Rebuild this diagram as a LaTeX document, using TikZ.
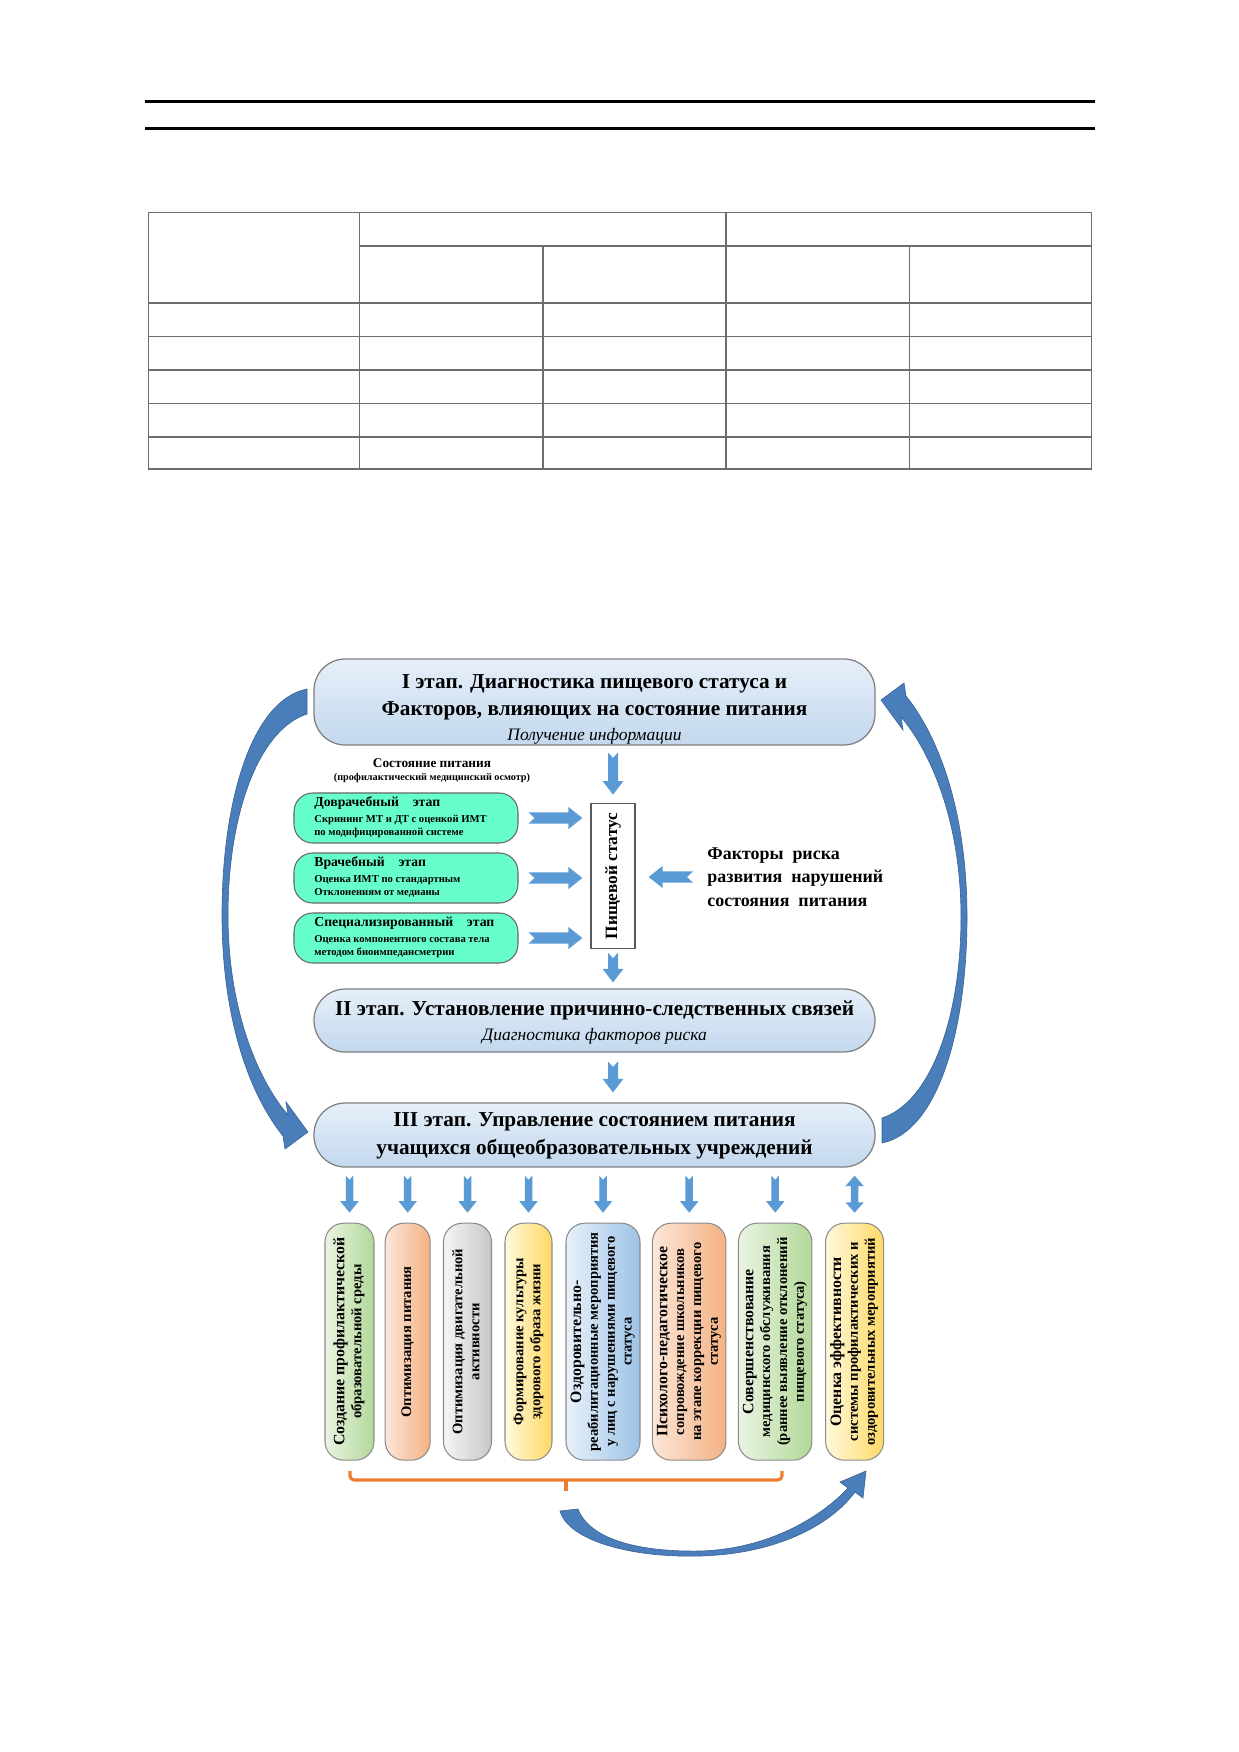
\documentclass[tikz,border=0pt]{standalone}
\usepackage{fontspec}
\setmainfont{Liberation Serif}
\usepackage{graphicx}
\usetikzlibrary{calc}
\definecolor{arrblue}{HTML}{5B9BD5}
\definecolor{carr}{HTML}{4A7EBB}
\definecolor{carrd}{HTML}{3A6496}
\definecolor{stgtop}{HTML}{E6EFF9}
\definecolor{stgbot}{HTML}{C3D8EE}
\definecolor{aqua}{HTML}{66FFCC}
\definecolor{brorange}{HTML}{ED7D31}
\definecolor{tblgray}{HTML}{6E6E6E}
\definecolor{gL}{HTML}{EAF4E2}\definecolor{gR}{HTML}{B2D898}
\definecolor{oL}{HTML}{FCE6D8}\definecolor{oR}{HTML}{F4B183}
\definecolor{yL}{HTML}{FFF9DC}\definecolor{yR}{HTML}{FFD966}
\definecolor{bL}{HTML}{E8F1FA}\definecolor{bR}{HTML}{9DC3E6}
\definecolor{grL}{HTML}{F5F5F5}\definecolor{grR}{HTML}{C8C8C8}
\def\pxu{0.48pt}
% block arrow: #1 start, #2 end, #3 shaft half, #4 head half, #5 head length, #6 notch
\newcommand\barr[6]{%
  \coordinate (ba-s) at #1; \coordinate (ba-e) at #2;
  \coordinate (ba-h) at ($(ba-e)!#5!(ba-s)$);
  \fill[arrblue] ($(ba-s)!#3!90:(ba-e)$) -- ($(ba-h)!#3!90:(ba-e)$) -- ($(ba-h)!#4!90:(ba-e)$)
    -- (ba-e) -- ($(ba-h)!#4!-90:(ba-e)$) -- ($(ba-h)!#3!-90:(ba-e)$) -- ($(ba-s)!#3!-90:(ba-e)$)
    -- ($(ba-s)!#6!(ba-e)$) -- cycle;}
% double block arrow
\newcommand\dbarr[5]{%
  \coordinate (ba-s) at #1; \coordinate (ba-e) at #2;
  \coordinate (ba-a) at ($(ba-s)!#5!(ba-e)$);
  \coordinate (ba-h) at ($(ba-e)!#5!(ba-s)$);
  \fill[arrblue] (ba-s) -- ($(ba-a)!#4!90:(ba-e)$) -- ($(ba-a)!#3!90:(ba-e)$) -- ($(ba-h)!#3!90:(ba-e)$)
    -- ($(ba-h)!#4!90:(ba-e)$) -- (ba-e) -- ($(ba-h)!#4!-90:(ba-e)$) -- ($(ba-h)!#3!-90:(ba-e)$)
    -- ($(ba-a)!#3!-90:(ba-e)$) -- ($(ba-a)!#4!-90:(ba-e)$) -- cycle;}
% stage text: first baseline raised #1 above the node centre
\newcommand\stx[2]{\raisebox{#1}[0pt][0pt]{\begin{tabular}[t]{@{}c@{}}#2\end{tabular}}}
\newcommand\gtx[1]{\makebox[88pt][l]{\begin{tabular}{@{}l@{}}#1\end{tabular}}}
\newcommand\vtext[1]{\rotatebox{90}{\begin{tabular}{@{}c@{}}#1\end{tabular}}}
\newcommand\subit{\mdseries\itshape\fontsize{8.4}{10}\selectfont}
\newcommand\gtitle{\fontsize{6.6}{6.3}\selectfont}
\newcommand\vfirst{\fontsize{7.6}{8.1}\selectfont}
\newcommand\curvedpath{(307,689) .. controls (252,700) and (222,800) .. (222,915)
  .. controls (222,1020) and (250,1095) .. (283,1136) -- (285,1149) -- (308,1132) -- (286,1102) -- (288,1115)
  .. controls (258,1080) and (228,1010) .. (228,915) .. controls (228,815) and (258,730) .. (307,714) -- cycle}
\begin{document}
\begin{tikzpicture}[x=0.48pt, y=-0.48pt,
  stage/.style={draw=black!50, line width=0.6pt, rounded corners=15pt, top color=stgtop, bottom color=stgbot,
    minimum width=561*\pxu, inner sep=0pt, font=\bfseries\fontsize{10.2}{12.7}\selectfont},
  greenbox/.style={draw=black!60, line width=0.5pt, fill=aqua, rounded corners=9pt,
    minimum width=224*\pxu, minimum height=50*\pxu, inner xsep=9.75pt, inner ysep=0pt,
    font=\bfseries\fontsize{5.1}{6.3}\selectfont},
  psbox/.style={draw=black!65, line width=0.6pt, fill=white, minimum width=44*\pxu, minimum height=145.5*\pxu, inner sep=0pt},
  vbox/.style={draw=black!45, line width=0.5pt, rounded corners=9pt, minimum height=237*\pxu, inner sep=0pt,
    font=\bfseries\fontsize{7}{8.1}\selectfont},
  tbl/.style={draw=tblgray, line width=0.75pt},
  curved/.style={fill=carr, draw=carrd, line width=0.3pt}
]
\fill[white] (0,0) rectangle (1239,1752);

% header rules
\draw[line width=1.6pt] (145,101.7) -- (1095,101.7);
\draw[line width=1.6pt] (145,128.5) -- (1095,128.5);

% empty table
\draw[tbl] (148.6,212.3) rectangle (1091.5,469.2);
\draw[tbl] (359.7,212.3) -- (359.7,469.2);
\draw[tbl] (726,212.3) -- (726,469.2);
\draw[tbl] (543,245.8) -- (543,469.2);
\draw[tbl] (909.4,245.8) -- (909.4,469.2);
\draw[tbl] (359.7,245.8) -- (1091.5,245.8);
\foreach \yy in {302.8,336.3,369.8,403.3,436.8} \draw[tbl] (148.6,\yy) -- (1091.5,\yy);

% stages
\node[stage, minimum height=86*\pxu] (s1) at (594.5,702)
  {\stx{6.5pt}{I этап. Диагностика пищевого статуса и\\[0.2pt]Факторов, влияющих на состояние питания\\[-0.8pt]
   {\subit Получение информации}}};
\node[stage, minimum height=63*\pxu] (s2) at (594.5,1020.5)
  {\stx{2.3pt}{II этап. Установление причинно-следственных связей\\[-0.9pt]
   {\subit Диагностика факторов риска}}};
\node[stage, minimum height=64*\pxu] (s3) at (594.5,1135)
  {\stx{4.1pt}{III этап. Управление состоянием питания\\[0.7pt]учащихся общеобразовательных учреждений}};

% nutrition status label
\node[align=center, inner sep=0pt, font=\bfseries\fontsize{4.9}{6.3}\selectfont] (sp) at (432,771)
  {{\fontsize{6.4}{6.3}\selectfont Состояние питания}\\(профилактический медицинский осмотр)};

% green boxes
\node[greenbox] (g1) at (406,818)
  {\gtx{{\gtitle Доврачебный\quad этап}\\[1.4pt]Скрининг МТ и ДТ с оценкой ИМТ\\по модифицированной системе}};
\node[greenbox] (g2) at (406,878)
  {\gtx{{\gtitle Врачебный\quad этап}\\[1.4pt]Оценка ИМТ по стандартным\\Отклонениям от медианы}};
\node[greenbox] (g3) at (406,938)
  {\gtx{{\gtitle Специализированный\quad этап}\\[1.4pt]Оценка компонентного состава тела\\методом биоимпедансметрии}};

% nutritional status box
\node[psbox] (ps) at (613,876) {\rotatebox{90}{\bfseries\fontsize{8.3}{10}\selectfont Пищевой статус}};

% risk factors
\node[anchor=west, align=left, inner sep=0pt, font=\bfseries\fontsize{8.6}{11.3}\selectfont] (fr) at (707,877)
  {Факторы\ \ риска\\развития\ \ нарушений\\состояния\ \ питания};

% vertical boxes
\node[vbox, minimum width=49*\pxu, left color=gL, right color=gR] (b1) at (349.5,1341.7)
  {\vtext{{\vfirst Создание профилактической}\\образовательной среды}};
\node[vbox, minimum width=45*\pxu, left color=oL, right color=oR] (b2) at (407.7,1341.7)
  {\vtext{Оптимизация питания}};
\node[vbox, minimum width=48*\pxu, left color=grL, right color=grR] (b3) at (467.5,1341.7)
  {\vtext{Оптимизация двигательной\\активности}};
\node[vbox, minimum width=47*\pxu, left color=yL, right color=yR] (b4) at (528.5,1341.7)
  {\vtext{Формирование культуры\\здорового образа жизни}};
\node[vbox, minimum width=74*\pxu, left color=bL, right color=bR] (b5) at (603,1341.7)
  {\vtext{{\vfirst Оздоровительно-}\\реабилитационные мероприятия\\у лиц с нарушениями пищевого\\статуса}};
\node[vbox, minimum width=73.5*\pxu, left color=oL, right color=oR] (b6) at (689.2,1341.7)
  {\vtext{{\vfirst Психолого-педагогическое}\\сопровождение школьников\\на этапе коррекции пищевого\\статуса}};
\node[vbox, minimum width=73.5*\pxu, left color=gL, right color=gR] (b7) at (775.2,1341.7)
  {\vtext{{\vfirst Совершенствование}\\медицинского обслуживания\\(раннее выявление отклонений\\пищевого статуса)}};
\node[vbox, minimum width=58*\pxu, left color=yL, right color=yR] (b8) at (854.6,1341.7)
  {\vtext{{\vfirst Оценка эффективности}\\системы профилактических и\\оздоровительных мероприятий}};

% straight block arrows
\barr{($(ps.north |- s1.south)+(0,7)$)}{($(ps.north)+(0,-8)$)}{2.4pt}{5pt}{6.5pt}{2.5pt}
\barr{($(ps.south)+(0,3.5)$)}{($(ps.south |- s2.north)+(0,-6)$)}{2.4pt}{5pt}{6.5pt}{2.5pt}
\barr{($(ps.south |- s2.south)+(0,9)$)}{($(ps.south |- s3.north)+(0,-10)$)}{2.4pt}{5pt}{6.5pt}{2.5pt}
\barr{($(g1.east)+(10,0)$)}{($(ps.west |- g1.east)+(-8,0)$)}{2.7pt}{5.3pt}{6.7pt}{2.9pt}
\barr{($(g2.east)+(10,0)$)}{($(ps.west |- g2.east)+(-8,0)$)}{2.7pt}{5.3pt}{6.7pt}{2.9pt}
\barr{($(g3.east)+(10,0)$)}{($(ps.west |- g3.east)+(-8,0)$)}{2.7pt}{5.3pt}{6.7pt}{2.9pt}
\barr{($(fr.west)+(-14,0)$)}{($(ps.east |- fr.west)+(13,0)$)}{2.7pt}{5.3pt}{6.7pt}{2.9pt}
\foreach \b in {b1,b2,b3,b4,b5,b6,b7}{
  \barr{($(\b.north |- s3.south)+(0,8)$)}{($(\b.north)+(0,-10)$)}{1.8pt}{4.4pt}{5.5pt}{2pt}}
\dbarr{($(b8.north |- s3.south)+(0,8)$)}{($(b8.north)+(0,-10)$)}{1.8pt}{4.4pt}{5pt}

% big curved arrows (I -> III on the left, III -> I on the right)
\path[curved] \curvedpath;
\begin{scope}[rotate around={180:(594.5,916)}]
\path[curved] \curvedpath;
\end{scope}

% bracket
\draw[brorange, line width=1.5pt, rounded corners=2pt] (350,1471) -- (350,1480) -- (782,1480) -- (782,1471);
\draw[brorange, line width=1.5pt] (566,1480) -- (566,1491);

% bottom curved arrow
\path[curved] (560,1511) .. controls (568,1540) and (630,1558) .. (700,1556)
  .. controls (775,1554) and (830,1526) .. (855,1492) -- (863,1498) -- (866,1471) -- (840,1482) -- (848,1488)
  .. controls (822,1516) and (770,1549) .. (700,1551) .. controls (640,1552) and (590,1540) .. (578,1509) -- cycle;
\end{tikzpicture}
\end{document}
